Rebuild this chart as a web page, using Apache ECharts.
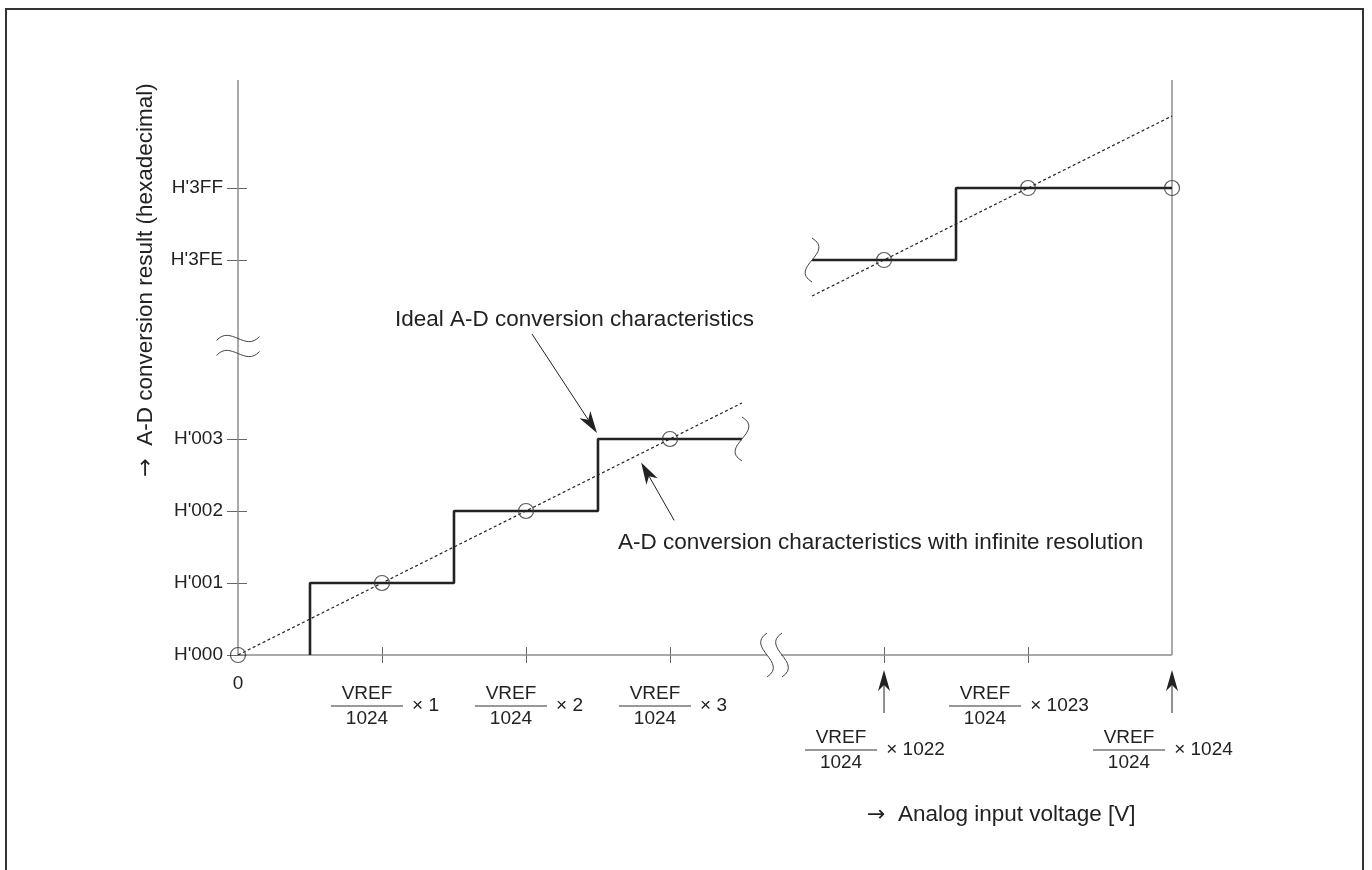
<!DOCTYPE html>
<html>
<head>
<meta charset="utf-8">
<script src="https://cdn.jsdelivr.net/npm/echarts@6.0.0/dist/echarts.min.js"></script>
<style>
  html, body { margin: 0; padding: 0; background: #fff; }
  #main { width: 1372px; height: 870px; }
</style>
</head>
<body>
<div id="main"></div>
<script>
const chart = echarts.init(document.getElementById('main'))

// codes shown on the axes
const xTickCodes = [1, 2, 3, 1022, 1023]
const xLabelCodes = [0, 1, 2, 3, 1023]
const xLoweredCodes = [1022, 1024]   // labels pushed down, with an up arrow
const yTickCodes = [0, 1, 2, 3, 1022, 1023]
const axisBreak = [3.5, 1021.5]
const xRange = [0, 1024]
const yRange = [0, 1024.5]

// ideal A-D conversion (staircase)
const idealLow = [[0.5, 0], [0.5, 1], [1.5, 1], [1.5, 2], [2.5, 2], [2.5, 3], [3.5, 3]]
const idealHigh = [[1021.5, 1022], [1022.5, 1022], [1022.5, 1023], [1024, 1023]]
// infinite resolution (straight dotted line)
const infiniteLow = [[0, 0], [3.5, 3.5]]
const infiniteHigh = [[1021.5, 1021.5], [1024, 1024]]
// circles
const samplePoints = [[0, 0], [1, 1], [2, 2], [3, 3], [1022, 1022], [1023, 1023], [1024, 1023]]

const ink = '#222'
const axisGray = '#8c8c8c'
const font = '"Liberation Sans", Arial, sans-serif'

const xLabel = (v) => {
  if (v === 0) return '{zero|0}'
  const big = v >= 1000
  const sp = xLoweredCodes.includes(v) ? '{spB| }' : '{spA| }'
  const L = big ? '' : '{lead| }'
  const R = big ? '{trail| }' : ''
  const pad = big ? '{padL| }' : '{padS| }'
  const mul = (big ? '{mulL|× ' : '{mulS|× ') + v + '}'
  return [sp,
    L + '{num|VREF}' + pad + R,
    L + '{bar| }{g| }' + mul + R,
    L + '{den|1024}' + pad + R].join('\n')
}
const yLabel = (v) => "H'" + v.toString(16).toUpperCase().padStart(3, '0')

const txt = { fontSize: 19, fontFamily: font, color: ink }
const xRich = {
  zero: { ...txt, lineHeight: 42 },
  spA: { fontSize: 1, lineHeight: 22 },
  spB: { fontSize: 1, lineHeight: 66 },
  num: { ...txt, width: 72, align: 'center', lineHeight: 18 },
  den: { ...txt, width: 72, align: 'center', lineHeight: 20 },
  bar: { fontSize: 1, width: 72, height: 1, lineHeight: 6, backgroundColor: '#333' },
  g: { fontSize: 1, width: 9, lineHeight: 6 },
  mulS: { ...txt, width: 27, lineHeight: 6 },
  mulL: { ...txt, width: 59, lineHeight: 6 },
  padS: { fontSize: 1, width: 36, lineHeight: 1 },
  padL: { fontSize: 1, width: 68, lineHeight: 1 },
  lead: { fontSize: 1, width: 6, lineHeight: 1 },
  trail: { fontSize: 1, width: 18, lineHeight: 1 }
}

const xBase = {
  type: 'value', min: xRange[0], max: xRange[1], position: 'bottom',
  breaks: [{ start: axisBreak[0], end: axisBreak[1], gap: '7.5%' }],
  breakArea: { show: false },
  breakLabelLayout: { moveOverlap: false },
  axisLine: { show: false, onZero: false },
  splitLine: { show: false }
}
const yBase = {
  type: 'value', min: yRange[0], max: yRange[1], position: 'left',
  breaks: [{ start: axisBreak[0], end: axisBreak[1], gap: '18.6%' }],
  breakArea: { show: false },
  breakLabelLayout: { moveOverlap: false },
  axisLine: { show: false, onZero: false },
  splitLine: { show: false }
}
const xLabelBase = { formatter: xLabel, margin: 8, rich: xRich, ...txt, hideOverlap: false, showMinLabel: true, showMaxLabel: true }

const option = {
  animation: false,
  backgroundColor: '#fff',
  grid: { left: 238, right: 200, top: 80, bottom: 215 },
  xAxis: [{
    ...xBase,
    axisTick: { customValues: xTickCodes, length: 8, lineStyle: { color: '#666' } },
    axisLabel: { ...xLabelBase, customValues: xLabelCodes }
  }, {
    ...xBase,
    axisTick: { customValues: xTickCodes, inside: true, length: 8, lineStyle: { color: '#666' } },
    axisLabel: { ...xLabelBase, customValues: xLoweredCodes }
  }],
  yAxis: [{
    ...yBase,
    axisTick: { customValues: yTickCodes, length: 11, lineStyle: { color: '#666' } },
    axisLabel: { customValues: yTickCodes, formatter: yLabel, margin: 15, ...txt, hideOverlap: false, showMinLabel: true }
  }, {
    ...yBase,
    axisTick: { customValues: yTickCodes, inside: true, length: 9, lineStyle: { color: '#666' } },
    axisLabel: { show: false }
  }],
  series: [
    { name: 'ideal-low', type: 'line', data: idealLow, showSymbol: false, lineStyle: { color: ink, width: 2.6 }, z: 3 },
    { name: 'ideal-high', type: 'line', data: idealHigh, showSymbol: false, lineStyle: { color: ink, width: 2.6 }, z: 3 },
    { name: 'infinite-low', type: 'line', data: infiniteLow, showSymbol: false, lineStyle: { color: ink, width: 1.2, type: [3, 2.5] }, z: 2 },
    { name: 'infinite-high', type: 'line', data: infiniteHigh, showSymbol: false, lineStyle: { color: ink, width: 1.2, type: [3, 2.5] }, z: 2 },
    {
      name: 'points', type: 'scatter', data: samplePoints, symbol: 'circle', symbolSize: 15,
      itemStyle: { color: 'rgba(0,0,0,0)', borderColor: '#333', borderWidth: 1.2 }, z: 4
    }
  ]
}
chart.setOption(option)

// ---- axis lines and annotations, placed from the chart's own scales ----
const px = (x, y) => chart.convertToPixel({ gridIndex: 0 }, [x, y])
const pxX = (v) => chart.convertToPixel({ xAxisIndex: 0 }, v)
const pxY = (v) => chart.convertToPixel({ yAxisIndex: 0 }, v)

const thin = { stroke: '#444', lineWidth: 1, fill: null }
const axisStroke = { stroke: axisGray, lineWidth: 1.5 }

const arrow = (from, tip, len, half) => {
  const dx = tip[0] - from[0], dy = tip[1] - from[1]
  const d = Math.hypot(dx, dy), ux = dx / d, uy = dy / d
  const bx = tip[0] - ux * len, by = tip[1] - uy * len
  const nx = tip[0] - ux * len * 0.72, ny = tip[1] - uy * len * 0.72
  return [
    { type: 'line', shape: { x1: from[0], y1: from[1], x2: nx, y2: ny }, style: { stroke: ink, lineWidth: 1 }, z: 10 },
    { type: 'polygon', shape: { points: [tip, [bx - uy * half, by + ux * half], [nx, ny], [bx + uy * half, by - ux * half]] }, style: { fill: ink }, z: 10 }
  ]
}
// vertical S-shaped break mark through (x, y)
const vWave = (x, y, h, k) => ({
  type: 'bezierCurve', z: 10,
  shape: { x1: x, y1: y - h / 2, cpx1: x + k, cpy1: y - h / 6, cpx2: x - k, cpy2: y + h / 6, x2: x, y2: y + h / 2 },
  style: thin
})
// horizontal tilde through (x, y)
const hWave = (x, y, w) => ({
  type: 'bezierCurve', z: 10,
  shape: { x1: x - w / 2, y1: y + 2, cpx1: x - w / 6, cpy1: y - 14, cpx2: x + w / 6, cpy2: y + 14, x2: x + w / 2, y2: y - 2 },
  style: thin
})
const arrowRich = { a: { fontFamily: '"DejaVu Sans"', fontSize: 22, fill: ink } }
const label = (text, x, y) => ({
  type: 'text', x, y, z: 10,
  style: { text, rich: arrowRich, fill: ink, fontSize: 22.5, fontFamily: font, align: 'left', textAlign: 'left', verticalAlign: 'middle', textVerticalAlign: 'middle' }
})

const x0 = pxX(xRange[0]), x1 = pxX(xRange[1])
const y0 = pxY(yRange[0]), y1 = pxY(yRange[1])
const xBreakMid = (pxX(axisBreak[0]) + pxX(axisBreak[1])) / 2 - 3
const yBreakMid = (pxY(axisBreak[0]) + pxY(axisBreak[1])) / 2 - 4
const lowEnd = px(idealLow[idealLow.length - 1][0], idealLow[idealLow.length - 1][1])
const highStart = px(idealHigh[0][0], idealHigh[0][1])
const stepCorner = px(2.5, 3)
const dotPoint = px(2.8, 2.8)

const graphic = [
  // frame
  { type: 'rect', shape: { x: 6, y: 9, width: 1357, height: 900 }, style: { stroke: '#333', lineWidth: 2, fill: null }, z: 0 },
  // axis lines, drawn straight through the breaks
  { type: 'line', shape: { x1: x0, y1: y0, x2: x0, y2: y1 }, style: axisStroke, z: 1 },
  { type: 'line', shape: { x1: x1, y1: y0, x2: x1, y2: y1 }, style: axisStroke, z: 1 },
  { type: 'line', shape: { x1: x0, y1: y0, x2: x1, y2: y0 }, style: axisStroke, z: 1 },
  // x axis break
  { type: 'rect', shape: { x: xBreakMid - 7, y: y0 - 2, width: 14, height: 4 }, style: { fill: '#fff' }, z: 9 },
  vWave(xBreakMid - 7, y0, 44, -22),
  vWave(xBreakMid + 8, y0, 44, -22),
  // y axis break
  hWave(x0, yBreakMid - 7, 43),
  hWave(x0, yBreakMid + 8, 43),
  // breaks on the staircase
  vWave(lowEnd[0], lowEnd[1], 44, 24),
  vWave(highStart[0], highStart[1], 44, 24),
  // annotations
  ...arrow([stepCorner[0] - 66, stepCorner[1] - 105], [stepCorner[0] - 1, stepCorner[1] - 6], 22, 6.5),
  ...arrow([dotPoint[0] + 33, dotPoint[1] + 67], [dotPoint[0], dotPoint[1] + 9], 22, 6.5),
  label('Ideal A-D conversion characteristics', 395, 320),
  label('A-D conversion characteristics with infinite resolution', 618, 543),
  label('{a|→}  Analog input voltage [V]', 867, 815),
  {
    type: 'text', x: 146, y: 280, rotation: Math.PI / 2, z: 10,
    style: { text: '{a|→}  A-D conversion result (hexadecimal)', rich: arrowRich, fill: ink, fontSize: 22.5, fontFamily: font, align: 'center', textAlign: 'center', verticalAlign: 'middle', textVerticalAlign: 'middle' }
  }
]
// up arrows under the lowered labels
xLoweredCodes.forEach((c) => {
  const x = pxX(c)
  graphic.push(...arrow([x, y0 + 58], [x, y0 + 15], 21, 6))
})

chart.setOption({ graphic })
</script>
</body>
</html>
